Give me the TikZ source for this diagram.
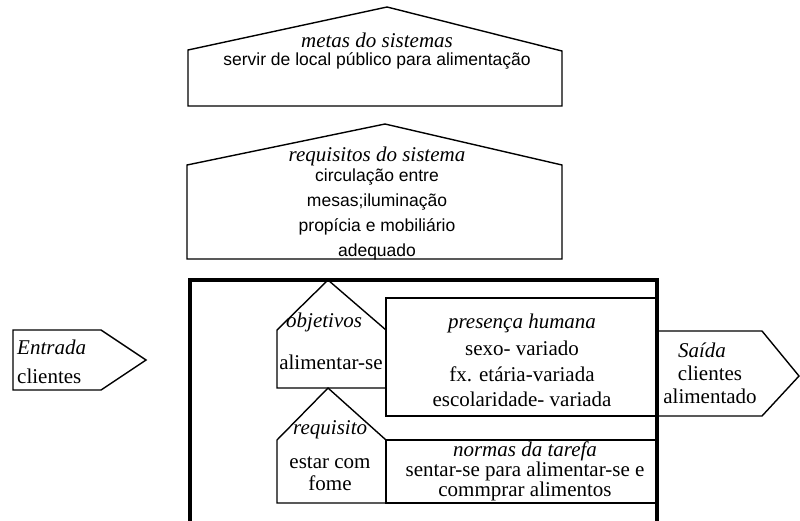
\documentclass[tikz,border=0pt]{standalone}
\usepackage{fontspec}
\setmainfont{Liberation Serif}
\newfontfamily\arialfont{Liberation Sans}

\begin{document}
\begin{tikzpicture}[x=1pt, y=-1pt, line join=miter,
	box/.style={line width=1.4pt},
	frame/.style={line width=3.5pt},
	tit/.style={font=\fontsize{21}{25}\selectfont\itshape, inner sep=0pt},
	txt/.style={font=\fontsize{21}{25}\selectfont, align=center, inner sep=0pt},
	sans/.style={font=\arialfont\fontsize{17.5}{25}\selectfont, align=center, inner sep=0pt}]
	\useasboundingbox (0,0) rectangle (800,520);
	
	% --- 1. METAS DO SISTEMA ---
	\draw[box] (188,106) -- (188,50) -- (387,7) -- (562,51) -- (562,106) -- cycle;
	\node[tit] (metasT) at (377,40) {metas do sistemas};
	\node[sans] (metasB) at (377,61) {servir de local público para alimentação};
	
	% --- 2. REQUISITOS DO SISTEMA ---
	\draw[box] (187,259) -- (187,165) -- (385,124) -- (562,165) -- (562,259) -- cycle;
	\node[tit] (reqT) at (377,156) {requisitos do sistema};
	\node[sans] (reqB) at (377,214) {circulação entre\\ mesas;iluminação\\ propícia e mobiliário\\ adequado};
	
	% --- 3. THE TASK FRAME ---
	\draw[frame] (190,280) rectangle (657,545);
	
	% objetivos
	\draw[box] (277,388) -- (277,330) -- (328,280) -- (386,330) -- (386,388) -- cycle;
	\node[tit, anchor=west] (objT) at (286,322) {objetivos};
	\node[txt] (objB) at (331,362) {alimentar-se};
	
	% requisito
	\draw[box] (277,503) -- (277,440) -- (328,388) -- (386,440) -- (386,503) -- cycle;
	\node[tit, anchor=west] (rqT) at (293,430) {requisito};
	\node[txt, font=\fontsize{21}{22}\selectfont] (rqB) at (330,474) {estar com\\ fome};
	
	% presenca humana
	\draw[box] (386,298) rectangle (657,416);
	\node[tit] (presT) at (522,323) {presença humana};
	\node[txt, font=\fontsize{21}{25.5}\selectfont] (presB) at (522,374) {sexo- variado\\ fx. etária-variada\\ escolaridade- variada};
	
	% normas da tarefa
	\draw[box] (386,440) rectangle (657,503);
	\node[txt, font=\fontsize{21}{19}\selectfont] (norm) at (525,471) {\textit{normas da tarefa}\\ sentar-se para alimentar-se e\\ commprar alimentos};
	
	% --- 4. ENTRADA / SAIDA ---
	\draw[box] (13,330) -- (101,330) -- (146,360) -- (101,390) -- (13,390) -- cycle;
	\node[tit, anchor=west] (inT) at (17,347) {Entrada};
	\node[txt, anchor=west] (inB) at (17,376) {clientes};
	
	\draw[box] (657,331) -- (762,331) -- (799,376) -- (762,416) -- (657,416);
	\node[tit] (outT) at (702,350) {Saída};
	\node[txt, font=\fontsize{21}{23}\selectfont] (outB) at (710,385) {clientes\\ alimentado};
\end{tikzpicture}
\end{document}
